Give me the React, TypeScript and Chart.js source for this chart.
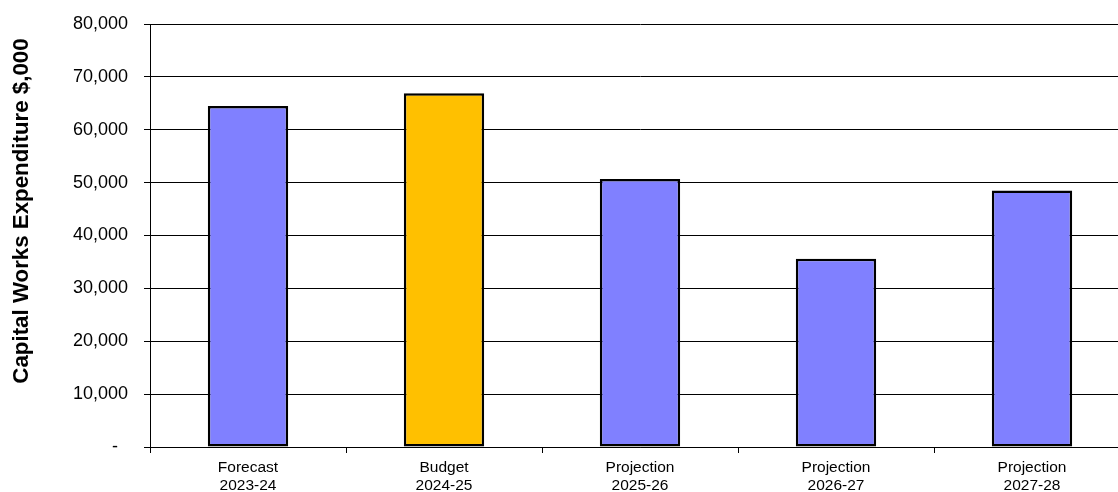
import React, { useEffect, useRef } from "react";
import { Chart, registerables } from "chart.js";

Chart.register(...registerables);

const categories: string[][] = [
  ["Forecast", "2023-24"],
  ["Budget", "2024-25"],
  ["Projection", "2025-26"],
  ["Projection", "2026-27"],
  ["Projection", "2027-28"],
];
const expenditure: number[] = [64500, 66900, 50700, 35600, 48500];
const barColors: string[] = ["#8080FF", "#FFC000", "#8080FF", "#8080FF", "#8080FF"];
const yAxisTitle = "Capital Works Expenditure $,000";
const yMin = 0;
const yMax = 80000;
const yStep = 10000;

const FONT = "'Liberation Sans', Arial, sans-serif";

// Vertical axis title, placed beside the value ticks
const axisTitlePlugin = {
  id: "axisTitle",
  afterDraw(chart: Chart) {
    const ctx = chart.ctx;
    ctx.save();
    ctx.translate(22, 211);
    ctx.rotate(-Math.PI / 2);
    ctx.font = `bold 22.3px ${FONT}`;
    ctx.fillStyle = "#000";
    ctx.textAlign = "center";
    ctx.textBaseline = "middle";
    ctx.fillText(yAxisTitle, 0, 0);
    ctx.restore();
  },
};

export default function App() {
  const canvasRef = useRef<HTMLCanvasElement | null>(null);

  useEffect(() => {
    const canvas = canvasRef.current;
    if (!canvas) return;
    const chart = new Chart(canvas, {
      type: "bar",
      data: {
        labels: categories,
        datasets: [
          {
            data: expenditure,
            backgroundColor: barColors,
            borderColor: "#000",
            borderWidth: 2.5,
            borderSkipped: false,
            categoryPercentage: 1,
            barPercentage: 0.41,
          },
        ],
      },
      options: {
        responsive: false,
        animation: false,
        layout: { padding: { top: 24, right: 10, left: 0, bottom: 0 } },
        plugins: {
          legend: { display: false },
          tooltip: { enabled: false },
        },
        scales: {
          x: {
            offset: true,
            grid: { offset: true, drawOnChartArea: false, drawTicks: true, tickLength: 6, color: "#000" },
            border: { display: true, color: "#000", width: 1 },
            ticks: { color: "#000", padding: 6, maxRotation: 0, font: { family: FONT, size: 15.5, lineHeight: 1.13 } },
            afterFit(scale: any) {
              scale.height = 45;
            },
          },
          y: {
            min: yMin,
            max: yMax,
            grid: { color: "#000", lineWidth: 1, drawTicks: true, tickLength: 6 },
            border: { display: true, color: "#000", width: 1 },
            ticks: {
              stepSize: yStep,
              color: "#000",
              padding: 16,
              font: { family: FONT, size: 18 },
              callback: (v: any) => (Number(v) === 0 ? "-  " : Number(v).toLocaleString("en-US")),
            },
            afterFit(scale: any) {
              scale.width = 150;
              scale.paddingTop = 0;
              scale.paddingBottom = 0;
            },
          },
        },
      },
      plugins: [axisTitlePlugin],
    });
    return () => chart.destroy();
  }, []);

  return (
    <div style={{ position: "fixed", left: 0, top: 0, width: 1118, height: 492, overflow: "hidden", background: "#fff" }}>
      <canvas ref={canvasRef} width={1140} height={492} style={{ width: 1140, height: 492, display: "block" }} />
    </div>
  );
}
